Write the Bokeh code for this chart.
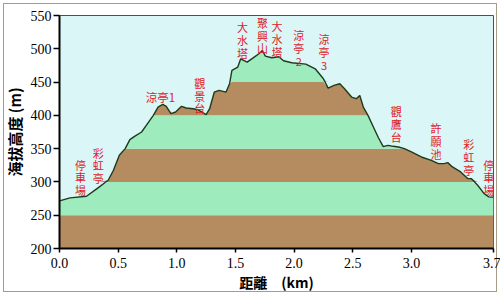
import numpy as np
from bokeh.plotting import figure
from bokeh.models import FixedTicker, NumeralTickFormatter, Range1d, ColumnDataSource
from bokeh.core.properties import value
from bokeh.embed import file_html
from bokeh.resources import INLINE

# profile data (distance km, elevation m)
dist = [0.0, 0.09, 0.23, 0.32, 0.415, 0.46, 0.51, 0.56, 0.60, 0.64, 0.70, 0.74, 0.80, 0.84,
        0.88, 0.91, 0.95, 0.99, 1.04, 1.08, 1.14, 1.18, 1.25, 1.28, 1.32, 1.36, 1.42, 1.45,
        1.47, 1.52, 1.545, 1.57, 1.60, 1.66, 1.70, 1.73, 1.755, 1.81, 1.87, 1.91, 1.98, 2.10,
        2.18, 2.25, 2.29, 2.34, 2.39, 2.43, 2.49, 2.53, 2.56, 2.59, 2.63, 2.675, 2.72, 2.76,
        2.80, 2.845, 2.89, 2.94, 3.00, 3.085, 3.17, 3.23, 3.28, 3.31, 3.35, 3.42, 3.48, 3.51,
        3.565, 3.62, 3.66, 3.70]
elev = [271.5, 276, 278.5, 290, 302.5, 317.5, 340, 350, 363.5, 368.5, 375, 385, 400, 412.5,
        416.5, 413.5, 402.5, 405, 413.5, 411, 410, 408.5, 401, 410, 435, 437.5, 435, 447.5,
        467.5, 472.5, 485, 482.5, 480, 487.5, 492.5, 497.5, 489, 486.5, 488, 482, 479, 477,
        470, 455, 441, 445, 447.5, 440, 427.5, 425, 430, 412.5, 400, 383, 366, 353,
        355, 353.5, 352.5, 350, 345, 337.5, 332.5, 327.5, 327.5, 329, 322.5, 315, 305, 305,
        295, 282.5, 277.5, 277]

band_lo = [200, 250, 300, 350, 400, 450, 500]
band_hi = [250, 300, 350, 400, 450, 500, 550]
band_col = ["#b58b60", "#9eebbd", "#b58b60", "#9eebbd", "#b58b60", "#9eebbd", "#b58b60"]

x_ticks = [0.0, 0.5, 1.0, 1.5, 2.0, 2.5, 3.0, 3.7]
y_ticks = [200, 250, 300, 350, 400, 450, 500, 550]

# vertical place labels (x km, top elevation m)
lab_text = ["停\n車\n場", "彩\n虹\n亭", "觀\n景\n台", "大\n水\n塔", "聚\n興\n山", "大\n水\n塔",
            "涼\n亭\n2", "涼\n亭\n3", "觀\n鷹\n台", "許\n願\n池", "彩\n虹\n亭", "停\n車\n場"]
lab_x = [0.18, 0.33, 1.195, 1.56, 1.73, 1.855, 2.04, 2.255, 2.87, 3.21, 3.49, 3.66]
lab_y = [338, 356, 461, 544, 551, 546, 532, 526, 418, 393, 369, 338]

p = figure(width=500, height=295, output_backend="svg", toolbar_location=None,
           x_range=Range1d(0, 3.7), y_range=Range1d(200, 550),
           min_border_left=56, min_border_right=7, min_border_top=15, min_border_bottom=47)
p.background_fill_color = "#daf6f6"
p.border_fill_color = "white"
p.border_fill_alpha = 0
p.styles = {"background-color": "white", "outline": "1.5px solid #a89c88",
            "outline-offset": "-4px"}
p.outline_line_color = "#505050"
p.outline_line_width = 1
p.grid.visible = False

x = np.array(dist)
e = np.array(elev)
for lo, hi, c in zip(band_lo, band_hi, band_col):
    p.varea(x=x, y1=np.full_like(x, lo), y2=np.clip(e, lo, hi), fill_color=c)

p.line(x, e, line_color="#1e3a1e", line_width=1.4)

src = ColumnDataSource(dict(x=lab_x, y=lab_y, t=lab_text))
p.text(x="x", y="y", text="t", source=src, text_font=value("Noto Sans CJK TC"),
       text_font_size="11px", text_color="#e02028", text_align="center",
       text_baseline="top", text_line_height=0.8)
p.text(x=[0.86], y=[427], text=["涼亭1"], text_font=value("Noto Sans CJK TC"),
       text_font_size="11.5px", text_color="#e02028", text_align="center",
       text_baseline="middle")

for ax in (p.xaxis[0], p.yaxis[0]):
    ax.axis_line_color = "black"
    ax.axis_line_width = 2
    ax.major_tick_line_color = "black"
    ax.major_tick_line_width = 1.5
    ax.major_tick_in = 0
    ax.minor_tick_line_color = None
    ax.major_label_text_font = "Liberation Serif"
    ax.major_label_text_font_size = "14px"
    ax.major_label_text_color = "black"
    ax.axis_label_text_font = "Noto Sans CJK TC"
    ax.axis_label_text_font_style = "bold"
    ax.axis_label_text_color = "black"

p.xaxis.ticker = FixedTicker(ticks=x_ticks)
p.xaxis.formatter = NumeralTickFormatter(format="0.0")
p.yaxis.ticker = FixedTicker(ticks=y_ticks)
p.xaxis.axis_label = "距離　(km)"
p.yaxis.axis_label = "海拔高度 (m)"
p.xaxis.axis_label_text_font_size = "14px"
p.yaxis.axis_label_text_font_size = "15px"
p.xaxis.major_tick_out = 4
p.yaxis.major_tick_out = 6
p.xaxis.major_label_standoff = 5
p.yaxis.major_label_standoff = 2
p.xaxis.axis_label_standoff = 1
p.yaxis.axis_label_standoff = 3

open("out.html", "w").write(file_html(p, INLINE))
